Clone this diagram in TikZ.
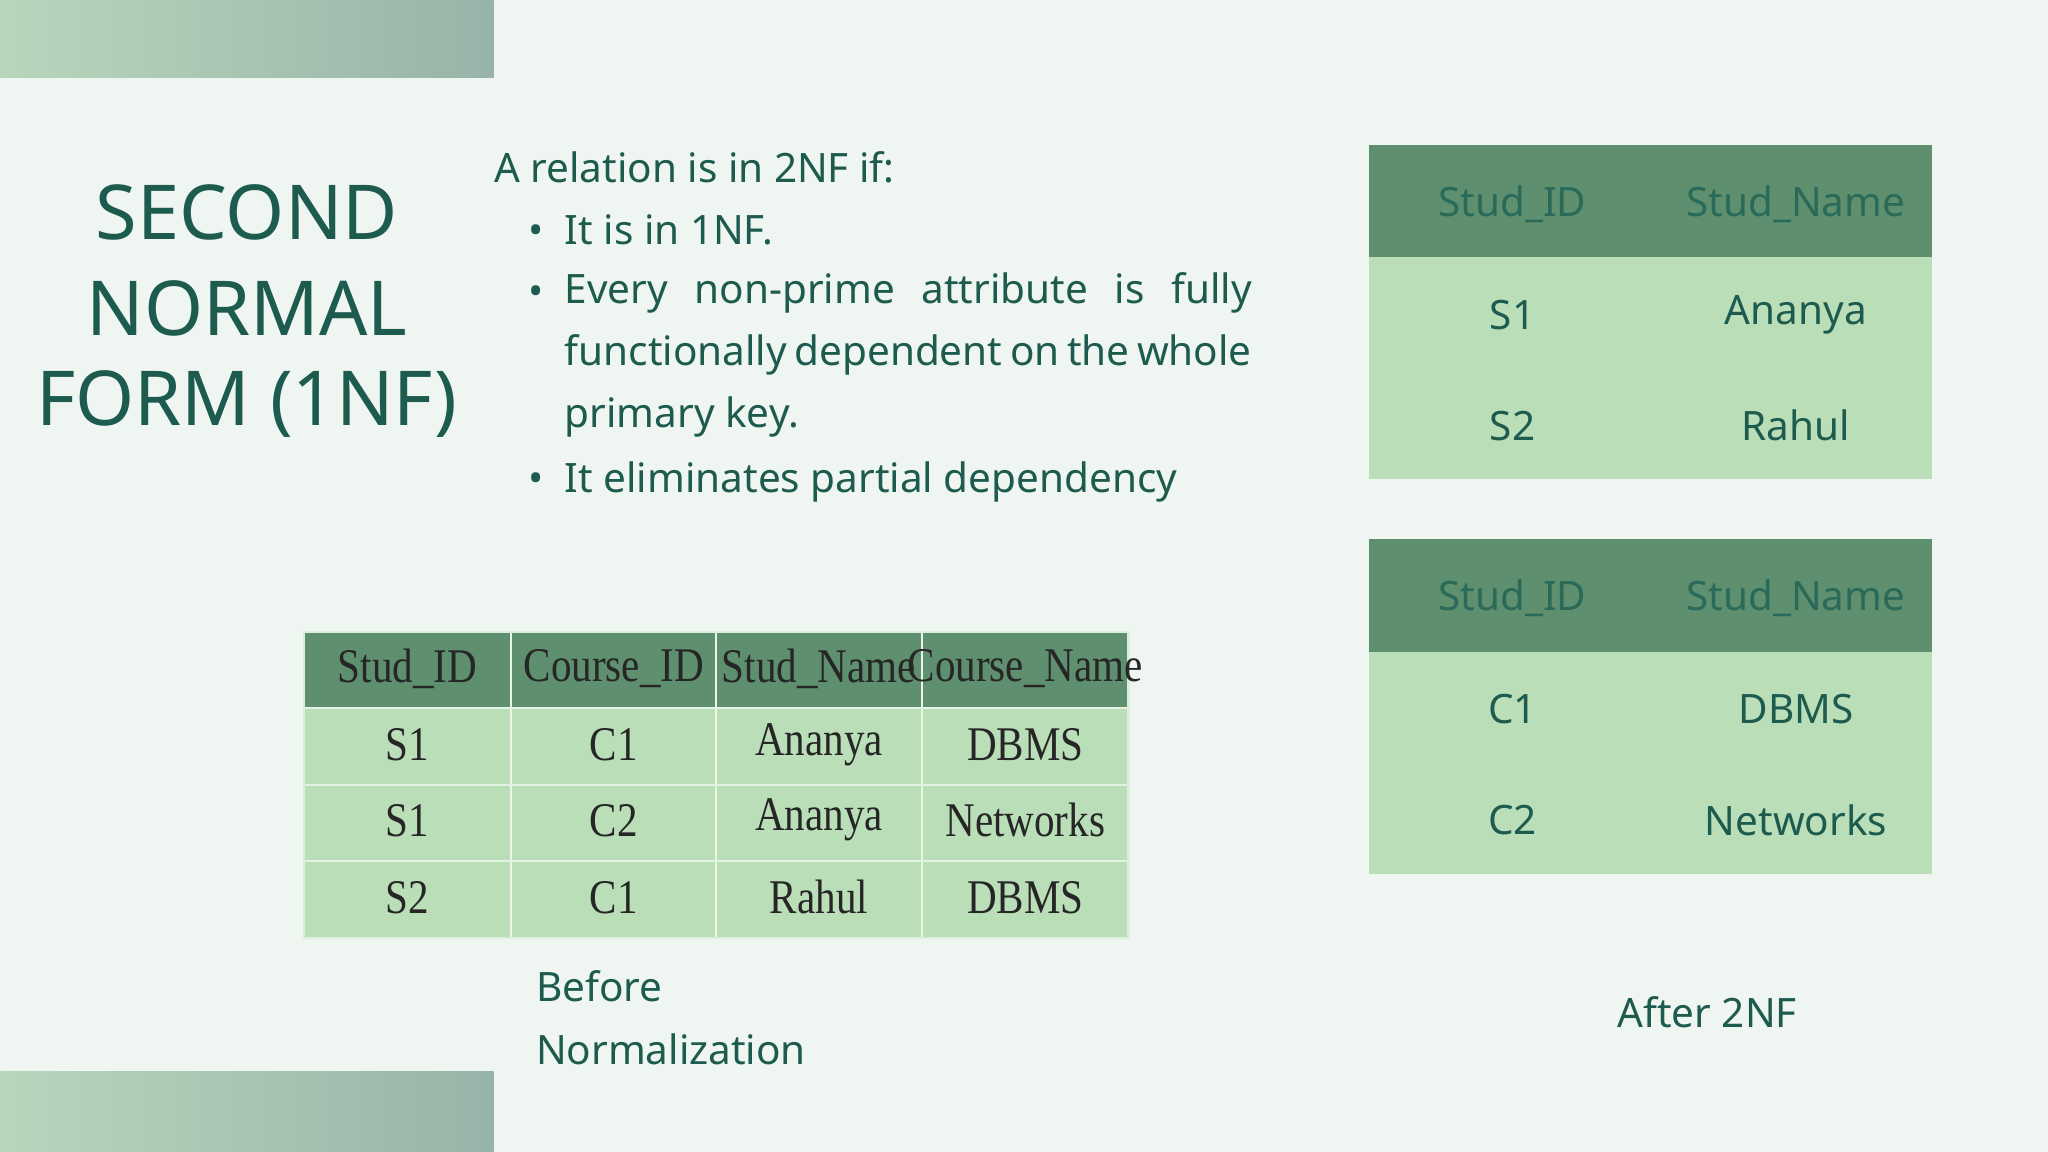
\documentclass[tikz,border=0pt]{standalone}
\usepackage{fontspec}
\setmainfont{Noto Sans}
\newfontfamily\tabfont{Liberation Serif}
\definecolor{bg}{HTML}{EFF5F0}
\definecolor{hdr}{HTML}{5E8F6E}
\definecolor{rowc}{HTML}{B9DEB8}
\definecolor{ink}{HTML}{1E5B4F}
\definecolor{hink}{HTML}{2A6A58}
\definecolor{gA}{HTML}{B8D6BC}
\definecolor{gB}{HTML}{98B3A8}
\tikzset{
 body/.style={font=\fontsize{15.5}{23.75}\selectfont, text=ink, inner sep=0pt},
 ttl/.style={font=\fontsize{29}{36}\selectfont, text=ink, align=center, inner sep=0pt},
 lt/.style={font=\tabfont\fontsize{18.5}{20}\selectfont, text=black!85, xscale=0.85, inner sep=0pt},
 rt/.style={font=\fontsize{15.5}{18}\selectfont, text=ink, inner sep=0pt},
 rh/.style={font=\fontsize{15.5}{18}\selectfont, text=hink, inner sep=0pt},
}
\begin{document}
\begin{tikzpicture}[x=0.5pt,y=-0.5pt]
\fill[bg] (0,0) rectangle (1568,882);
\useasboundingbox (0,0) rectangle (1568,882);
\shade[left color=gA,right color=gB] (0,0) rectangle (378,59);
\shade[left color=gA,right color=gB] (0,820) rectangle (378,882);
% title
\node[ttl] (t1) at (189,163) {SECOND};
\node[ttl] (t2) at (189,236) {NORMAL};
\node[ttl] (t3) at (189,309) {FORM (1NF)};
% text
\node[body,anchor=base west] (intro) at (378,140) {A relation is in 2NF if:};
\node[body,anchor=base west] (b1d) at (404,187) {•};
\node[body,anchor=base west] (b1) at (432,187) {It is in 1NF.};
\node[body,anchor=base west] (b2d) at (404,234) {•};
\node[body,anchor=north west,text width=263pt,align=justify] (b2) at (432,208)
 {Every non-prime attribute is fully functionally dependent on the whole primary key.};
\node[body,anchor=base west] (b3d) at (404,377) {•};
\node[body,anchor=base west] (b3) at (432,377) {It eliminates partial dependency};
% left table
\fill[hdr] (233,484) rectangle (864,542);
\fill[rowc] (233,542) rectangle (864,718);
\foreach \x in {391,548,706}{\draw[white!70!rowc,line width=0.8pt] (\x,484) -- (\x,718);}
\foreach \y in {542,601,659}{\draw[white!60!rowc,line width=0.6pt] (233,\y) -- (864,\y);}
\draw[white!50!rowc,line width=0.8pt] (233,484) rectangle (864,718);
\node[lt] (h1) at (312,512) {Stud\_ID};
\node[lt] (h2) at (470,512) {Course\_ID};
\node[lt] (h3) at (627,512) {Stud\_Name};
\node[lt] (h4) at (785,512) {Course\_Name};
\node[lt] (a1) at (312,570) {S1};
\node[lt] (a2) at (470,570) {C1};
\node[lt] (a3) at (627,570) {Ananya};
\node[lt] (a4) at (785,570) {DBMS};
\node[lt] (b1c) at (312,628) {S1};
\node[lt] (b2c) at (470,628) {C2};
\node[lt] (b3c) at (627,628) {Ananya};
\node[lt] (b4c) at (785,628) {Networks};
\node[lt] (c1) at (312,687) {S2};
\node[lt] (c2) at (470,687) {C1};
\node[lt] (c3) at (627,687) {Rahul};
\node[lt] (c4) at (785,687) {DBMS};
\node[body,anchor=base west] (cap1) at (410,767) {Before};
\node[body,anchor=base west] (cap2) at (410,815) {Normalization};
% right table 1
\fill[hdr] (1048,111) rectangle (1479,197);
\fill[rowc] (1048,197) rectangle (1479,367);
\node[rh] (r1h1) at (1158,156) {Stud\_ID};
\node[rh,font=\fontsize{15.5}{18}\selectfont\bfseries] (r1h2) at (1375,156) {Stud\_Name};
\node[rt] (r1a) at (1158,241) {S1};
\node[rt] (r1b) at (1375,241) {Ananya};
\node[rt] (r1c) at (1158,326) {S2};
\node[rt] (r1d) at (1375,326) {Rahul};
% right table 2
\fill[hdr] (1048,413) rectangle (1479,499);
\fill[rowc] (1048,499) rectangle (1479,669);
\node[rh] (r2h1) at (1158,458) {Stud\_ID};
\node[rh,font=\fontsize{15.5}{18}\selectfont\bfseries] (r2h2) at (1375,458) {Stud\_Name};
\node[rt] (r2a) at (1158,543) {C1};
\node[rt] (r2b) at (1375,543) {DBMS};
\node[rt] (r2c) at (1158,628) {C2};
\node[rt] (r2d) at (1375,628) {Networks};
\node[body] (after) at (1307,775) {After 2NF};
\end{tikzpicture}
\end{document}
